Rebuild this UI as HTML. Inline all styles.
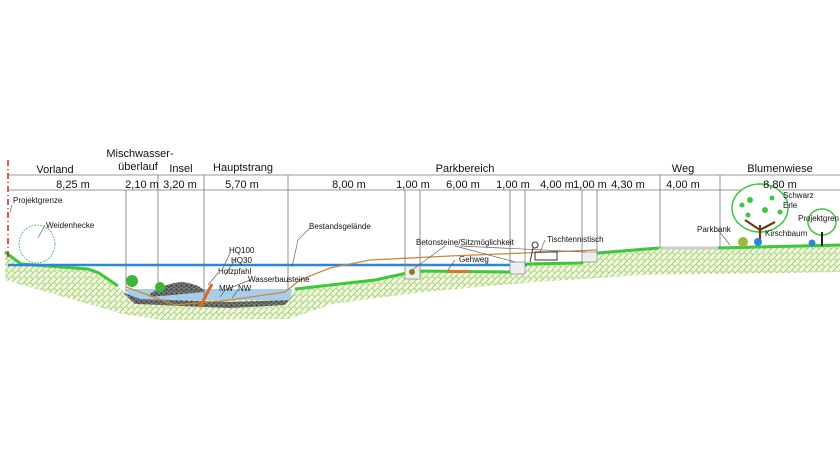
<!DOCTYPE html>
<html><head><meta charset="utf-8"><style>
html,body{margin:0;padding:0;background:#fff;width:840px;height:460px;overflow:hidden}
text{font-family:"Liberation Sans",sans-serif;fill:#111}
</style></head><body>
<svg width="840" height="460" viewBox="0 0 840 460" xmlns="http://www.w3.org/2000/svg">
<defs>
<pattern id="h" width="6" height="6" patternUnits="userSpaceOnUse">
<rect width="6" height="6" fill="#eef6dc"/>
<path d="M0 6L6 0M0 0L3 3" stroke="#a9cf78" stroke-width="0.9"/>
</pattern>
<pattern id="g" width="5" height="4" patternUnits="userSpaceOnUse">
<rect width="5" height="4" fill="#7a7a7a"/>
<circle cx="1.5" cy="1.5" r="1.1" fill="#3a3a3a"/><circle cx="4" cy="3.2" r="0.9" fill="#444"/>
</pattern>
</defs>
<path d="M5 252 L21 264 L88 269 L99 273 L126 293 L160 290 L200 290 L289 293 L297 288 L375 280 L407 273 L423 271 L509 272 L525 264 L581 263 L597 253 L659 248 L718 248 L840 245 L840 272 L643 275 L536 282 L423 292 L332 304 L289 319 L161 320 L123 314 L5 280 Z" fill="url(#h)"/>
<path d="M126 289 L292 289 L290 300 L130 300 Z" fill="#a8cdea"/>
<path d="M150 294 Q165 283 182 282 Q200 284 205 292 L150 297 Z" fill="url(#g)"/>
<path d="M122 292 L135 304 L230 308 L285 305 L296 292 L290 300 L230 302 L140 299 Z" fill="url(#g)"/>
<polyline points="5,252 21,264 88,269 99,273 118,286" fill="none" stroke="#3cc83c" stroke-width="3"/>
<polyline points="295,289 375,280 407,273 423,271 509,272 525,264 581,263 597,253 659,248" fill="none" stroke="#3cc83c" stroke-width="3"/>
<line x1="659" y1="248" x2="718" y2="248" stroke="#ccc" stroke-width="3"/>
<line x1="718" y1="248" x2="840" y2="245" stroke="#3cc83c" stroke-width="3"/>
<rect x="447" y="270" width="22" height="3" fill="#d07a2a"/>
<line x1="8" y1="265" x2="527" y2="265" stroke="#2a86d8" stroke-width="2.5"/>
<polyline points="126,287 175,305 230,300 285,292 300,280 330,268 370,260 450,256 597,250" fill="none" stroke="#c98a3a" stroke-width="1.3"/>
<line x1="8" y1="160" x2="8" y2="258" stroke="#d02020" stroke-width="1.5" stroke-dasharray="6,3,1,3"/>
<g stroke="#777" stroke-width="0.8">
<line x1="8" y1="175" x2="840" y2="175"/><line x1="8" y1="190" x2="840" y2="190"/>
<line x1="126" y1="190" x2="126" y2="292"/><line x1="158" y1="175" x2="158" y2="290"/>
<line x1="204" y1="175" x2="204" y2="296"/><line x1="288" y1="175" x2="288" y2="290"/>
<line x1="405" y1="190" x2="405" y2="272"/><line x1="420" y1="190" x2="420" y2="271"/>
<line x1="510" y1="190" x2="510" y2="270"/><line x1="525" y1="190" x2="525" y2="263"/>
<line x1="582" y1="190" x2="582" y2="262"/><line x1="597" y1="190" x2="597" y2="253"/>
<line x1="660" y1="175" x2="660" y2="248"/><line x1="720" y1="175" x2="720" y2="248"/>
</g>
<g fill="#eee" stroke="#888" stroke-width="0.7">
<rect x="405" y="266" width="15" height="13"/><rect x="510" y="262" width="15" height="12"/><rect x="582" y="252" width="15" height="10"/>
</g>
<g stroke="#666" stroke-width="0.7" fill="none">
<path d="M12 205 L10 212"/><path d="M45 225 L38 238"/>
<path d="M230 253 L223 268 M235 260 L225 275"/><path d="M218 273 L208 285"/>
<path d="M250 280 L225 290"/><path d="M225 290 L220 297 M238 290 L232 298"/>
<path d="M310 228 L298 240 L292 267"/>
<path d="M445 246 L412 270 M455 246 L515 262 M460 246 L585 252"/>
<path d="M455 260 L448 270"/><path d="M545 240 L540 252"/><path d="M718 230 L730 245"/>
</g>
<ellipse cx="37" cy="244" rx="18" ry="19" fill="none" stroke="#4caf50" stroke-width="0.8" stroke-dasharray="2,1"/>
<ellipse cx="760" cy="208" rx="28" ry="24" fill="#fff" stroke="#3cc83c" stroke-width="1.5"/>
<g fill="#3cc83c"><circle cx="750" cy="200" r="3"/><circle cx="765" cy="210" r="3"/><circle cx="748" cy="215" r="2.5"/><circle cx="772" cy="198" r="2.5"/><circle cx="780" cy="212" r="2.5"/><circle cx="742" cy="205" r="2.5"/></g>
<path d="M760 225 L760 245 M760 230 L745 220 M760 230 L775 222" stroke="#6b3a1a" stroke-width="2.2"/>
<ellipse cx="822" cy="222" rx="14" ry="13" fill="#fff" stroke="#3cc83c" stroke-width="1.5"/>
<line x1="822" y1="232" x2="822" y2="246" stroke="#222" stroke-width="2"/>
<g fill="#2a86d8"><circle cx="758" cy="242" r="4"/><circle cx="812" cy="243" r="3.5"/></g>
<circle cx="743" cy="242" r="5" fill="#9ab83a"/>
<g fill="#3ab83a"><circle cx="132" cy="281" r="6"/><circle cx="160" cy="287" r="5"/><circle cx="412" cy="272" r="3" fill="#8a7a2a"/></g>
<line x1="200" y1="307" x2="212" y2="284" stroke="#e06a20" stroke-width="3"/>
<g stroke="#333" stroke-width="1" fill="none"><rect x="535" y="252" width="22" height="8"/><circle cx="535" cy="245" r="3"/><path d="M533 248 L530 262"/></g>
<g font-size="11" text-anchor="middle">
<text x="55" y="173">Vorland</text>
<text x="140" y="157">Mischwasser-</text><text x="138" y="170">überlauf</text>
<text x="181" y="172">Insel</text><text x="243" y="171">Hauptstrang</text>
<text x="465" y="172">Parkbereich</text><text x="683" y="172">Weg</text><text x="780" y="172">Blumenwiese</text>
<text x="73" y="188">8,25 m</text><text x="142" y="188">2,10 m</text><text x="180" y="188">3,20 m</text>
<text x="242" y="188">5,70 m</text><text x="349" y="188">8,00 m</text><text x="413" y="188">1,00 m</text>
<text x="463" y="188">6,00 m</text><text x="513" y="188">1,00 m</text><text x="557" y="188">4,00 m</text>
<text x="590" y="188">1,00 m</text><text x="628" y="188">4,30 m</text><text x="683" y="188">4,00 m</text>
<text x="780" y="188">8,80 m</text>
</g>
<g font-size="8">
<text x="13" y="203">Projektgrenze</text><text x="46" y="228">Weidenhecke</text>
<text x="229" y="253">HQ100</text><text x="231" y="263">HQ30</text><text x="218" y="274">Holzpfahl</text>
<text x="248" y="282">Wasserbausteine</text><text x="219" y="291">MW</text><text x="238" y="291">NW</text>
<text x="309" y="229">Bestandsgelände</text><text x="416" y="245">Betonsteine/Sitzmöglichkeit</text>
<text x="459" y="262">Gehweg</text><text x="547" y="242">Tischtennistisch</text>
<text x="697" y="232">Parkbank</text><text x="783" y="198">Schwarz</text><text x="783" y="208">Erle</text>
<text x="798" y="221">Projektgren</text><text x="765" y="236">Kirschbaum</text>
</g>
</svg>
</body></html>
